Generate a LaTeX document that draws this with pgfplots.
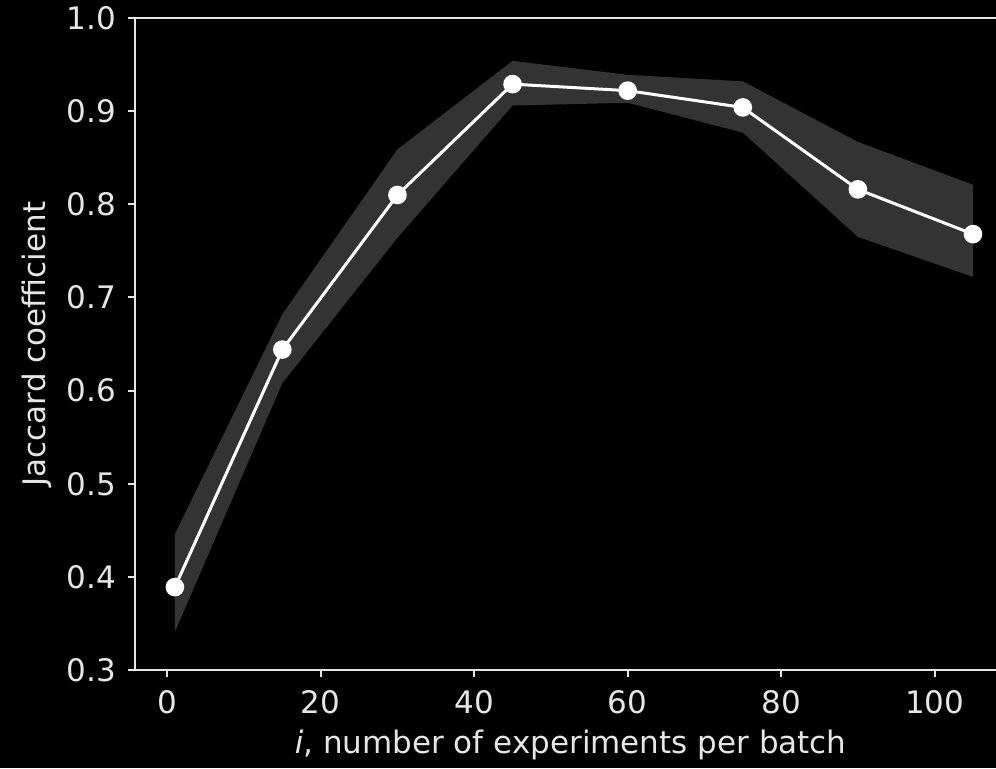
\documentclass[border=0pt]{standalone}
\usepackage{pgfplots}
\pgfplotsset{compat=1.18}
\usepackage{fontspec}
\setmainfont{DejaVu Sans}
\definecolor{fg}{HTML}{E6E6E6}
\definecolor{band}{HTML}{333333}
\begin{document}
\begin{tikzpicture}
\fill[black] (-67.5pt,-49pt) rectangle (430.5pt,335pt);
\begin{axis}[
  at={(0pt,0pt)}, anchor=south west,
  scale only axis, width=430.5pt, height=326pt,
  xmin=-4.2, xmax=108.0, ymin=0.3, ymax=1.0,
  axis x line*=bottom, axis y line*=left,
  axis line style={fg, line width=1pt, -},
  tick align=outside, major tick length=3.5pt,
  tick style={fg, line width=1pt},
  xtick={0,20,40,60,80,100},
  ytick={0.3,0.4,0.5,0.6,0.7,0.8,0.9,1.0},
  /pgf/number format/assume math mode=true,
  yticklabel style={/pgf/number format/fixed, /pgf/number format/precision=1, /pgf/number format/fixed zerofill, xshift=-2.5pt},
  xticklabel style={yshift=-3pt},
  ticklabel style={font=\fontsize{15.5}{18}\selectfont, text=fg},
  every axis x label/.style={at={(axis description cs:0.506,0)}, anchor=center, yshift=-37.5pt, font=\fontsize{15.5}{18}\selectfont, text=fg},
  every axis y label/.style={at={(axis description cs:-0.1138,0.5)}, anchor=center, rotate=90, font=\fontsize{15.5}{18}\selectfont, text=fg},
  xlabel={\textit{i}, number of experiments per batch},
  ylabel={Jaccard coefficient},
  extra description/.code={\draw[fg, line width=1pt] (rel axis cs:0,1) -- (rel axis cs:1,1);},
]
\addplot[fill=band, draw=none] coordinates {
  (1,0.446) (15,0.682) (30,0.859) (45,0.954) (60,0.939) (75,0.932) (90,0.867) (105,0.821)
  (105,0.722) (90,0.765) (75,0.877) (60,0.909) (45,0.906) (30,0.764) (15,0.608) (1,0.341)
} --cycle;
\addplot[white, line width=1.5pt, mark=*, mark size=3.9pt, mark options={fill=white, draw=white}] coordinates {
  (1,0.389) (15,0.644) (30,0.810) (45,0.929) (60,0.922) (75,0.904) (90,0.816) (105,0.768)
};
\end{axis}
\pgfresetboundingbox
\useasboundingbox (-67.5pt,-49pt) rectangle (430.5pt,335pt);
\end{tikzpicture}
\end{document}
